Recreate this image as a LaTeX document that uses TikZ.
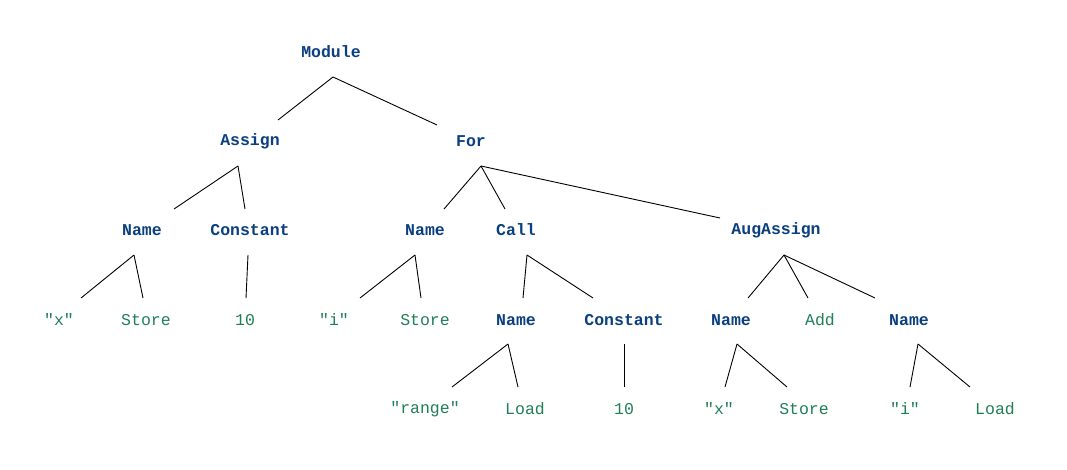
\documentclass[tikz,border=0pt]{standalone}
\usepackage{fontspec}
\setmonofont{Liberation Mono}
\usetikzlibrary{calc}
\definecolor{nodeblue}{HTML}{0B3F7F}
\definecolor{leafgreen}{HTML}{1F8058}
\tikzset{
  inner/.style={font=\ttfamily\bfseries\fontsize{16.5}{18}\selectfont, text=nodeblue, inner sep=0pt},
  leaf/.style={font=\ttfamily\fontsize{16.5}{18}\selectfont, text=leafgreen, inner sep=0pt},
  edge/.style={draw=black, line width=0.9pt}
}
\begin{document}
\begin{tikzpicture}[x=1pt,y=-1pt]
\useasboundingbox[fill=white] (0,0) rectangle (1067,469);
% row 1
\node[inner] (mod) at (331,52) {Module};
% row 2
\node[inner] (asg) at (250,141) {Assign};
\node[inner] (for) at (471,141) {For};
% row 3
\node[inner] (n1) at (142,230) {Name};
\node[inner] (c1) at (250,230) {Constant};
\node[inner] (n2) at (425,230) {Name};
\node[inner] (call) at (516,230) {Call};
\node[inner] (aug) at (776,230) {AugAssign};
% row 4
\node[leaf] (x1) at (59,320) {"x"};
\node[leaf] (st1) at (146,320) {Store};
\node[leaf] (ten1) at (245,320) {10};
\node[leaf] (i1) at (334,320) {"i"};
\node[leaf] (st2) at (425,320) {Store};
\node[inner] (n3) at (516,320) {Name};
\node[inner] (c2) at (624,320) {Constant};
\node[inner] (n4) at (731,320) {Name};
\node[leaf] (add) at (820,320) {Add};
\node[inner] (n5) at (909,320) {Name};
% row 5
\node[leaf] (rng) at (425,409) {"range"};
\node[leaf] (ld1) at (525,409) {Load};
\node[leaf] (ten2) at (624,409) {10};
\node[leaf] (x2) at (719,409) {"x"};
\node[leaf] (st3) at (804,409) {Store};
\node[leaf] (i2) at (905,409) {"i"};
\node[leaf] (ld2) at (995,409) {Load};
% edges
\draw[edge] ($(mod)+(2,25)$) -- ($(asg)+(28,-21)$);
\draw[edge] ($(mod)+(2,25)$) -- ($(for)+(-34,-16)$);
\draw[edge] ($(asg)+(-12,25)$) -- ($(n1)+(32,-21)$);
\draw[edge] ($(asg)+(-12,25)$) -- ($(c1)+(-5,-21)$);
\draw[edge] ($(for)+(10,25)$) -- ($(n2)+(19,-21)$);
\draw[edge] ($(for)+(10,25)$) -- ($(call)+(-11,-21)$);
\draw[edge] ($(for)+(10,25)$) -- ($(aug)+(-56,-12)$);
\draw[edge] ($(n1)+(-8,25)$) -- ($(x1)+(22,-22)$);
\draw[edge] ($(n1)+(-8,25)$) -- ($(st1)+(-3,-22)$);
\draw[edge] ($(c1)+(-2,25)$) -- ($(ten1)+(1,-22)$);
\draw[edge] ($(n2)+(-10,25)$) -- ($(i1)+(26,-22)$);
\draw[edge] ($(n2)+(-10,25)$) -- ($(st2)+(-4,-22)$);
\draw[edge] ($(call)+(11,25)$) -- ($(n3)+(7,-22)$);
\draw[edge] ($(call)+(11,25)$) -- ($(c2)+(-31,-22)$);
\draw[edge] ($(aug)+(8,25)$) -- ($(n4)+(17,-22)$);
\draw[edge] ($(aug)+(8,25)$) -- ($(add)+(-12,-22)$);
\draw[edge] ($(aug)+(8,25)$) -- ($(n5)+(-34,-22)$);
\draw[edge] ($(n3)+(-8,24)$) -- ($(rng)+(27,-22)$);
\draw[edge] ($(n3)+(-8,24)$) -- ($(ld1)+(-7,-22)$);
\draw[edge] ($(c2)+(0,24)$) -- ($(ten2)+(0,-22)$);
\draw[edge] ($(n4)+(6,24)$) -- ($(x2)+(6,-22)$);
\draw[edge] ($(n4)+(6,24)$) -- ($(st3)+(-17,-22)$);
\draw[edge] ($(n5)+(9,24)$) -- ($(i2)+(5,-22)$);
\draw[edge] ($(n5)+(9,24)$) -- ($(ld2)+(-25,-22)$);
\end{tikzpicture}
\end{document}
